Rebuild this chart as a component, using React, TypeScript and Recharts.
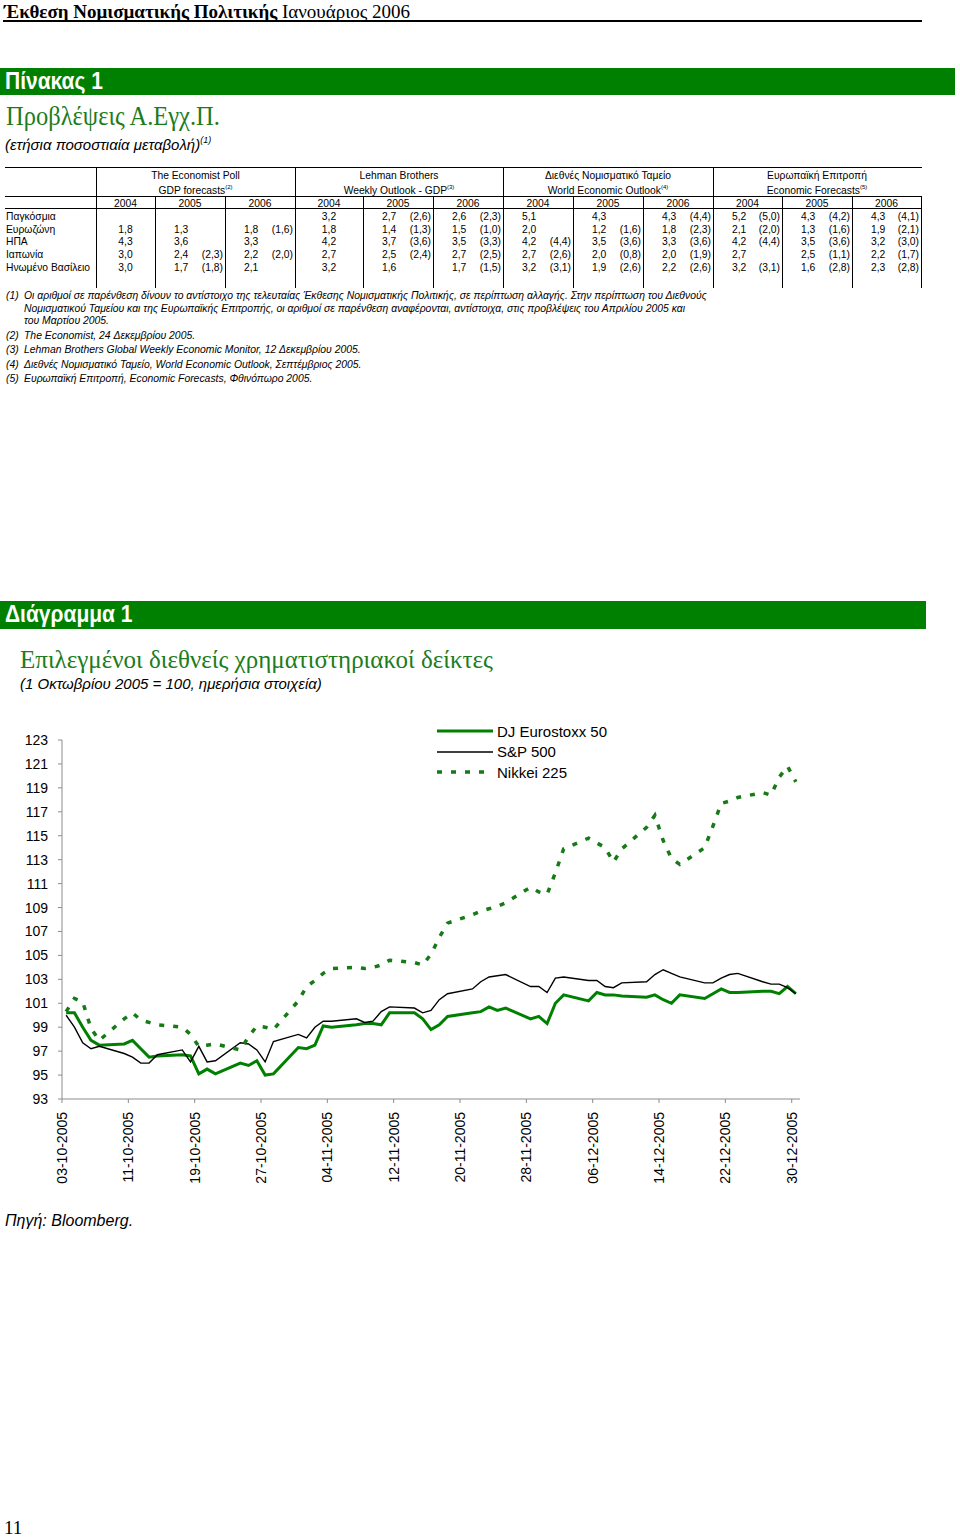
import React from "react";
import { LineChart, Line, XAxis, YAxis, Legend } from "recharts";

const SANS = '"Liberation Sans", Arial, sans-serif';
const SERIF = '"Liberation Serif", "Times New Roman", serif';
const GREEN = "#008000";

// ---- table data ----
const regions = ["Παγκόσμια", "Ευρωζώνη", "ΗΠΑ", "Ιαπωνία", "Ηνωμένο Βασίλειο"];
const years = ["2004", "2005", "2006"];
const sourceNames = ["The Economist Poll", "Lehman Brothers", "Διεθνές Νομισματικό Ταμείο", "Ευρωπαϊκή Επιτροπή"];
const sourceSubs = ["GDP forecasts", "Weekly Outlook - GDP", "World Economic Outlook", "Economic Forecasts"];
const sourceNotes = ["(2)", "(3)", "(4)", "(5)"];

const economistPoll = [
  ["", "", ""],
  ["1,8", "1,3", "1,8 (1,6)"],
  ["4,3", "3,6", "3,3"],
  ["3,0", "2,4 (2,3)", "2,2 (2,0)"],
  ["3,0", "1,7 (1,8)", "2,1"],
];
const lehman = [
  ["3,2", "2,7 (2,6)", "2,6 (2,3)"],
  ["1,8", "1,4 (1,3)", "1,5 (1,0)"],
  ["4,2", "3,7 (3,6)", "3,5 (3,3)"],
  ["2,7", "2,5 (2,4)", "2,7 (2,5)"],
  ["3,2", "1,6", "1,7 (1,5)"],
];
const imf = [
  ["5,1", "4,3", "4,3 (4,4)"],
  ["2,0", "1,2 (1,6)", "1,8 (2,3)"],
  ["4,2 (4,4)", "3,5 (3,6)", "3,3 (3,6)"],
  ["2,7 (2,6)", "2,0 (0,8)", "2,0 (1,9)"],
  ["3,2 (3,1)", "1,9 (2,6)", "2,2 (2,6)"],
];
const euCommission = [
  ["5,2 (5,0)", "4,3 (4,2)", "4,3 (4,1)"],
  ["2,1 (2,0)", "1,3 (1,6)", "1,9 (2,1)"],
  ["4,2 (4,4)", "3,5 (3,6)", "3,2 (3,0)"],
  ["2,7", "2,5 (1,1)", "2,2 (1,7)"],
  ["3,2 (3,1)", "1,6 (2,8)", "2,3 (2,8)"],
];
const tableSources = [economistPoll, lehman, imf, euCommission];

const footnotes = [
  ["(1)", "Οι αριθμοί σε παρένθεση δίνουν το αντίστοιχο της τελευταίας Έκθεσης Νομισματικής Πολιτικής, σε περίπτωση αλλαγής. Στην περίπτωση του Διεθνούς"],
  ["", "Νομισματικού Ταμείου και της Ευρωπαϊκής Επιτροπής, οι αριθμοί σε παρένθεση αναφέρονται, αντίστοιχα, στις προβλέψεις του Απριλίου 2005 και"],
  ["", "του Μαρτίου 2005."],
  ["(2)", "The Economist, 24 Δεκεμβρίου 2005."],
  ["(3)", "Lehman Brothers Global Weekly Economic Monitor, 12 Δεκεμβρίου 2005."],
  ["(4)", "Διεθνές Νομισματικό Ταμείο, World Economic Outlook, Σεπτέμβριος 2005."],
  ["(5)", "Ευρωπαϊκή Επιτροπή, Economic Forecasts, Φθινόπωρο 2005."],
];

// ---- chart data ----
const tradingDays = [
  "03-10", "04-10", "05-10", "06-10", "07-10",
  "10-10", "11-10", "12-10", "13-10", "14-10",
  "17-10", "18-10", "19-10", "20-10", "21-10",
  "24-10", "25-10", "26-10", "27-10", "28-10",
  "31-10", "01-11", "02-11", "03-11", "04-11",
  "07-11", "08-11", "09-11", "10-11", "11-11",
  "14-11", "15-11", "16-11", "17-11", "18-11",
  "21-11", "22-11", "23-11", "24-11", "25-11",
  "28-11", "29-11", "30-11", "01-12", "02-12",
  "05-12", "06-12", "07-12", "08-12", "09-12",
  "12-12", "13-12", "14-12", "15-12", "16-12",
  "19-12", "20-12", "21-12", "22-12", "23-12",
  "26-12", "27-12", "28-12", "29-12", "30-12",
];
const eurostoxx = [
  100.2, 100.2, 99.0, 97.9, 97.5,
  97.6, 97.9, 97.2, 96.5, 96.6,
  96.7, 96.6, 95.1, 95.5, 95.1,
  96.0, 95.8, 96.2, 95.0, 95.1,
  97.3, 97.2, 97.5, 99.1, 99.0,
  99.2, 99.3, 99.3, 99.2, 100.2,
  100.2, 99.7, 98.8, 99.2, 99.9,
  100.2, 100.3, 100.7, 100.4, 100.6,
  99.7, 99.9, 99.3, 101.0, 101.7,
  101.2, 101.9, 101.7, 101.7, 101.6,
  101.5, 101.7, 101.3, 101.0, 101.7,
  101.4, 101.8, 102.2, 101.9, 101.9,
  102.0, 102.0, 101.8, 102.4, 101.8,
];
const sp500 = [
  100.0, 99.0, 97.7, 97.2, 97.4,
  96.8, 96.5, 96.0, 96.0, 96.7,
  97.1, 96.1, 97.4, 96.1, 96.2,
  97.7, 97.6, 97.1, 96.1, 97.8,
  98.4, 98.1, 99.0, 99.5, 99.5,
  99.7, 99.4, 99.5, 100.3, 100.7,
  100.6, 100.2, 100.4, 101.3, 101.8,
  102.2, 102.8, 103.2, 103.3, 103.4,
  102.4, 102.4, 101.9, 103.1, 103.2,
  102.9, 102.9, 102.4, 102.3, 102.7,
  102.8, 103.4, 103.8, 103.5, 103.2,
  102.7, 102.7, 103.1, 103.4, 103.5,
  102.8, 102.6, 102.6, 102.3, 101.8,
];
const nikkei = [
  100.3, 101.4, 101.1, 98.9, 97.9,
  99.7, 100.2, 99.6, 99.4, 99.2,
  99.0, 98.4, 97.4, 97.5, 97.6,
  97.1, 98.2, 99.1, 99.0, 98.8,
  101.2, 102.4, 102.9, 103.5, 103.9,
  104.0, 103.9, 104.0, 104.2, 104.6,
  104.4, 104.2, 105.1, 106.5, 107.7,
  108.4, 108.7, 108.9, 109.1, 109.4,
  110.7, 110.3, 110.1, 111.9, 113.9,
  114.8, 114.4, 114.0, 112.8, 113.9,
  115.7, 116.7, 114.6, 113.1, 112.6,
  114.0, 115.8, 117.7, 117.9, 118.2,
  118.6, 118.4, 119.9, 120.8, 119.5,
];
const xTickLabels = [
  "03-10-2005", "11-10-2005", "19-10-2005", "27-10-2005", "04-11-2005", "12-11-2005",
  "20-11-2005", "28-11-2005", "06-12-2005", "14-12-2005", "22-12-2005", "30-12-2005",
];
const yTicks = [93, 95, 97, 99, 101, 103, 105, 107, 109, 111, 113, 115, 117, 119, 121, 123];

const seriesOrder = ["eu", "sp", "nk"];
const seriesStyle: Record<string, { name: string; color: string; width: number; dash?: string }> = {
  eu: { name: "DJ Eurostoxx 50", color: GREEN, width: 3 },
  sp: { name: "S&P 500", color: "#000000", width: 1.4 },
  nk: { name: "Nikkei 225", color: "#177a17", width: 3.5, dash: "5 9" },
};

const START = Date.UTC(2005, 9, 3);
function dayIndex(s: string): number {
  const [d, m] = s.split("-").map(Number);
  return Math.round((Date.UTC(2005, m - 1, d) - START) / 86400000);
}
function dayLabel(i: number): string {
  const dt = new Date(START + i * 86400000);
  const dd = String(dt.getUTCDate()).padStart(2, "0");
  const mm = String(dt.getUTCMonth() + 1).padStart(2, "0");
  return `${dd}-${mm}-${dt.getUTCFullYear()}`;
}

// points sit in the middle of their day, ticks at the start of it
const chartData = tradingDays.map((d, i) => ({
  x: dayIndex(d) + 0.5,
  eu: eurostoxx[i],
  sp: sp500[i],
  nk: nikkei[i],
}));
const xTicks = xTickLabels.map((l) => dayIndex(l.slice(0, 5)));

// ---- layout ----
const colEdges = [96, 155, 225, 295, 363, 433, 503, 573, 643, 713, 782, 852, 921];
const rowY = [216.5, 229.5, 242, 255, 268];

function T(props: { x: number; y: number; size: number; children: React.ReactNode; style?: React.CSSProperties }) {
  return (
    <div
      style={{
        position: "absolute",
        left: props.x,
        top: props.y,
        fontSize: props.size,
        lineHeight: 1,
        whiteSpace: "nowrap",
        ...props.style,
      }}
    >
      {props.children}
    </div>
  );
}

function HLine({ x1, x2, y, h = 1 }: { x1: number; x2: number; y: number; h?: number }) {
  return <div style={{ position: "absolute", left: x1, top: y, width: x2 - x1, height: h, background: "#000" }} />;
}
function VLine({ x, y1, y2 }: { x: number; y1: number; y2: number }) {
  return <div style={{ position: "absolute", left: x, top: y1, width: 1, height: y2 - y1, background: "#000" }} />;
}

function Table() {
  const cells: React.ReactNode[] = [];
  tableSources.forEach((src, g) => {
    const gl = colEdges[g * 3];
    const gr = colEdges[g * 3 + 3];
    cells.push(
      <div key={`h${g}`} style={{ position: "absolute", left: gl, width: gr - gl, top: 169.5, fontSize: 10.3, lineHeight: "12px", textAlign: "center" }}>
        {sourceNames[g]}
      </div>,
      <div key={`s${g}`} style={{ position: "absolute", left: gl, width: gr - gl, top: 184.5, fontSize: 10.3, lineHeight: "12px", textAlign: "center" }}>
        {sourceSubs[g]}
        <sup style={{ fontSize: 6, verticalAlign: 5, lineHeight: 0 }}>{sourceNotes[g]}</sup>
      </div>
    );
    years.forEach((yr, k) => {
      const l = colEdges[g * 3 + k];
      const r = colEdges[g * 3 + k + 1];
      cells.push(
        <div key={`y${g}${k}`} style={{ position: "absolute", left: l, width: r - l, top: 197.5, fontSize: 10.3, lineHeight: "12px", textAlign: "center" }}>
          {yr}
        </div>
      );
      const hasParen = src.some((row) => row[k].includes("("));
      src.forEach((row, ri) => {
        const [v, p] = row[k].split(" ");
        if (!v) return;
        const top = rowY[ri] - 6;
        if (hasParen) {
          cells.push(
            <div key={`v${g}${k}${ri}`} style={{ position: "absolute", left: l + 19, top, fontSize: 10.3, lineHeight: "12px" }}>{v}</div>
          );
        } else {
          cells.push(
            <div key={`v${g}${k}${ri}`} style={{ position: "absolute", left: l, width: r - l, top, fontSize: 10.3, lineHeight: "12px", textAlign: "center" }}>{v}</div>
          );
        }
        if (p) {
          cells.push(
            <div key={`p${g}${k}${ri}`} style={{ position: "absolute", left: l, width: r - l - 2, top, fontSize: 10.3, lineHeight: "12px", textAlign: "right" }}>{p}</div>
          );
        }
      });
    });
  });

  return (
    <div style={{ fontFamily: SANS }}>
      <HLine x1={5} x2={922} y={167} />
      <HLine x1={5} x2={922} y={196} />
      <HLine x1={5} x2={922} y={208} />
      <VLine x={96} y1={167} y2={288} />
      {[295, 503, 713].map((x) => (
        <VLine key={x} x={x} y1={167} y2={288} />
      ))}
      {colEdges.filter((x) => ![96, 295, 503, 713, 921].includes(x)).map((x) => (
        <VLine key={x} x={x} y1={196} y2={288} />
      ))}
      <VLine x={921} y1={196} y2={288} />
      {regions.map((r, i) => (
        <T key={r} x={6} y={rowY[i] - 5} size={10.3}>{r}</T>
      ))}
      {cells}
    </div>
  );
}

function XTick(props: any) {
  const { x, y, payload } = props;
  return (
    <g transform={`translate(${x},${y})`}>
      <text transform="rotate(-90)" x={-7} dy="0.36em" textAnchor="end" fontSize={14} fill="#000" fontFamily={SANS}>
        {dayLabel(payload.value)}
      </text>
    </g>
  );
}

function LegendBox(props: any) {
  const items = [...(props.payload || [])].sort(
    (a: any, b: any) => seriesOrder.indexOf(a.dataKey) - seriesOrder.indexOf(b.dataKey)
  );
  return (
    <div style={{ fontFamily: SANS, fontSize: 15, color: "#000" }}>
      {items.map((p: any) => {
        const s = seriesStyle[p.dataKey];
        return (
          <div key={p.dataKey} style={{ display: "flex", alignItems: "center", height: 20.5 }}>
            <svg width={58} height={8} style={{ display: "block" }}>
              <line x1={0} y1={4} x2={56} y2={4} stroke={s.color} strokeWidth={s.width} strokeDasharray={s.dash} />
            </svg>
            <span style={{ marginLeft: 2, lineHeight: 1 }}>{s.name}</span>
          </div>
        );
      })}
    </div>
  );
}

function Chart() {
  return (
    <div style={{ position: "absolute", left: 0, top: 700 }}>
      <LineChart
        width={860}
        height={500}
        data={chartData}
        margin={{ top: 40, right: 60, bottom: 11, left: 0 }}
        style={{ fontFamily: SANS }}
      >
        <XAxis
          dataKey="x"
          type="number"
          domain={[0, 89]}
          ticks={xTicks}
          interval={0}
          height={90}
          tickSize={4}
          tick={<XTick />}
          axisLine={{ stroke: "#8c8c8c" }}
          tickLine={{ stroke: "#8c8c8c" }}
        />
        <YAxis
          type="number"
          domain={[93, 123]}
          ticks={yTicks}
          interval={0}
          width={62}
          tickSize={4}
          tickMargin={10}
          tick={{ fontSize: 14, fill: "#000" }}
          axisLine={{ stroke: "#8c8c8c" }}
          tickLine={{ stroke: "#8c8c8c" }}
          allowDataOverflow
        />
        <Legend
          layout="vertical"
          align="center"
          verticalAlign="middle"
          content={<LegendBox />}
          wrapperStyle={{ left: 437, top: 21, width: 200 }}
        />
        <Line
          type="linear"
          dataKey="eu"
          name={seriesStyle.eu.name}
          stroke={seriesStyle.eu.color}
          strokeWidth={seriesStyle.eu.width}
          dot={false}
          isAnimationActive={false}
        />
        <Line
          type="linear"
          dataKey="sp"
          name={seriesStyle.sp.name}
          stroke={seriesStyle.sp.color}
          strokeWidth={seriesStyle.sp.width}
          dot={false}
          isAnimationActive={false}
        />
        <Line
          type="linear"
          dataKey="nk"
          name={seriesStyle.nk.name}
          stroke={seriesStyle.nk.color}
          strokeWidth={seriesStyle.nk.width}
          strokeDasharray={seriesStyle.nk.dash}
          dot={false}
          isAnimationActive={false}
        />
      </LineChart>
    </div>
  );
}

export default function App() {
  return (
    <div
      style={{
        position: "absolute",
        left: 0,
        top: 0,
        width: 960,
        height: 1537,
        background: "#fff",
        overflow: "hidden",
        color: "#000",
        fontFamily: SANS,
      }}
    >
      {/* running header */}
      <T x={4} y={2} size={19} style={{ fontFamily: SERIF }}>
        <b>Έκθεση Νομισματικής Πολιτικής</b> Ιανουάριος 2006
      </T>
      <HLine x1={3} x2={922} y={20} h={2} />

      {/* table block */}
      <div style={{ position: "absolute", left: 0, top: 68, width: 955, height: 27, background: GREEN }} />
      <T x={5} y={71} size={21} style={{ color: "#fff", fontWeight: "bold", transform: "scaleY(1.1)", transformOrigin: "0 85%" }}>Πίνακας 1</T>
      <T x={6} y={105} size={24.5} style={{ fontFamily: SERIF, color: "#1c7c1c", transform: "scaleY(1.15)", transformOrigin: "0 85%" }}>Προβλέψεις Α.Εγχ.Π.</T>
      <T x={5} y={137} size={15} style={{ fontStyle: "italic" }}>
        (ετήσια ποσοστιαία μεταβολή)<sup style={{ fontSize: 9, verticalAlign: 7, lineHeight: 0 }}>(1)</sup>
      </T>
      <Table />
      {footnotes.map(([n, t], i) => {
        const ys = [290.5, 303.5, 316, 330.5, 345, 359.5, 374];
        return (
          <React.Fragment key={i}>
            {n && <T x={6} y={ys[i]} size={10.4} style={{ fontStyle: "italic" }}>{n}</T>}
            <T x={24} y={ys[i]} size={10.4} style={{ fontStyle: "italic" }}>{t}</T>
          </React.Fragment>
        );
      })}

      {/* chart block */}
      <div style={{ position: "absolute", left: 0, top: 601, width: 926, height: 28, background: GREEN }} />
      <T x={5} y={604} size={21} style={{ color: "#fff", fontWeight: "bold", transform: "scaleY(1.1)", transformOrigin: "0 85%" }}>Διάγραμμα 1</T>
      <T x={20} y={647} size={25} style={{ fontFamily: SERIF, color: "#1c7c1c" }}>
        Επιλεγμένοι διεθνείς χρηματιστηριακοί δείκτες
      </T>
      <T x={20} y={676} size={15} style={{ fontStyle: "italic" }}>(1 Οκτωβρίου 2005 = 100, ημερήσια στοιχεία)</T>
      <Chart />
      <T x={5} y={1213} size={16} style={{ fontStyle: "italic" }}>Πηγή: Bloomberg.</T>
      <T x={4} y={1518} size={19} style={{ fontFamily: SERIF }}>11</T>
    </div>
  );
}
